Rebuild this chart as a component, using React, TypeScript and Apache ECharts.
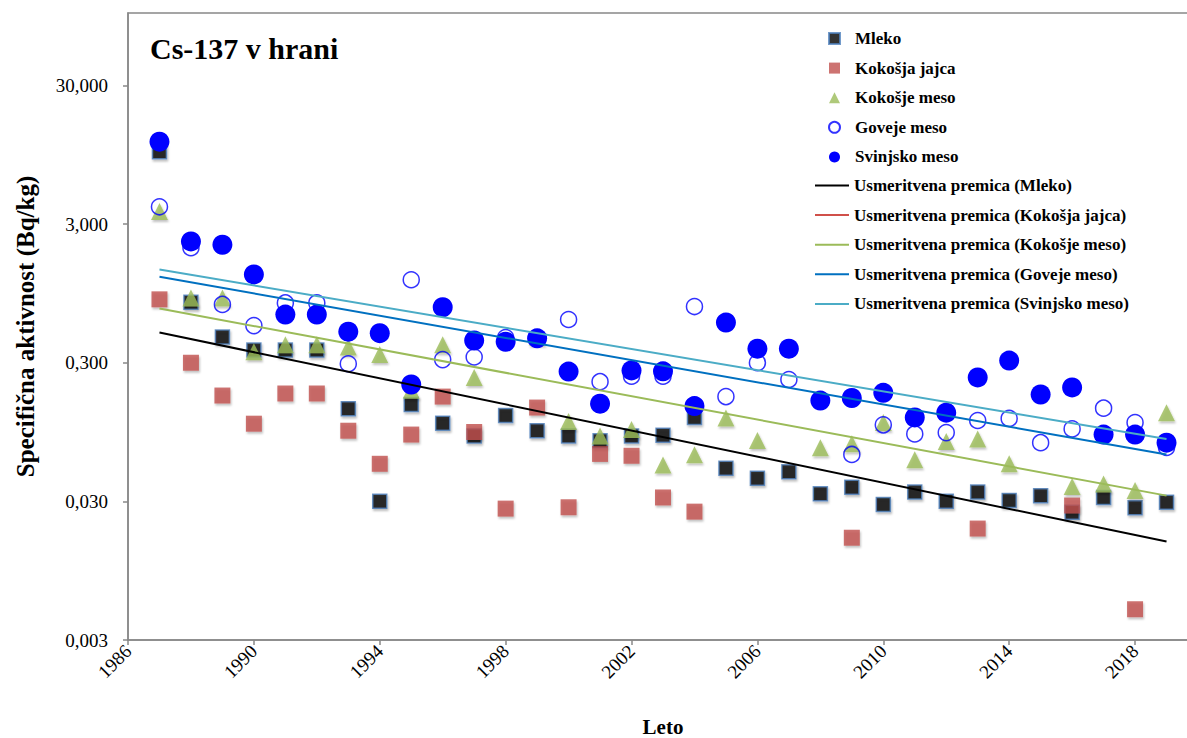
import React, { useEffect, useRef } from 'react';
import * as echarts from 'echarts';

const FONT = "'Liberation Serif', 'Times New Roman', Times, serif";

const years = [
  1987, 1988, 1989, 1990, 1991, 1992, 1993, 1994, 1995, 1996, 1997,
  1998, 1999, 2000, 2001, 2002, 2003, 2004, 2005, 2006, 2007, 2008,
  2009, 2010, 2011, 2012, 2013, 2014, 2015, 2016, 2017, 2018, 2019,
];

const mleko = [
  10.0, 0.82, 0.46, 0.37, 0.37, 0.37, 0.14, 0.030, 0.15, 0.11, 0.089,
  0.125, 0.097, 0.089, 0.082, 0.089, 0.09, 0.121, 0.052, 0.044, 0.049, 0.034,
  0.038, 0.0285, 0.035, 0.030, 0.035, 0.0305, 0.033, 0.025, 0.032, 0.027, 0.0296,
];

const kokosjaJajca = [
  0.86, 0.30, 0.174, 0.109, 0.18, 0.18, 0.097, 0.056, 0.091, 0.171, 0.095,
  0.0266, 0.1425, 0.0272, 0.066, 0.064, 0.032, 0.0253, null, null, null, null,
  0.0164, null, null, null, 0.0191, null, null, 0.028, null, 0.005, null,
];

const kokosjeMeso = [
  3.7, 0.88, 0.88, 0.36, 0.405, 0.405, 0.39, 0.344, 0.19, 0.405, 0.235,
  null, 0.46, 0.113, 0.089, 0.099, 0.055, 0.065, 0.12, 0.0825, null, 0.073,
  0.078, 0.111, 0.060, 0.081, 0.0845, 0.056, null, 0.0384, 0.040, 0.036, 0.131,
];

const govejeMeso = [
  4.0, 2.03, 0.79, 0.556, 0.81, 0.81, 0.295, null, 1.19, 0.316, 0.33,
  0.456, null, 0.615, 0.219, 0.24, 0.24, 0.763, 0.171, 0.30, 0.227, null,
  0.0654, 0.107, 0.092, 0.094, 0.115, 0.119, 0.0795, 0.10, 0.141, 0.111, 0.0735,
];

const svinjskoMeso = [
  11.8, 2.25, 2.13, 1.30, 0.668, 0.668, 0.503, 0.49, 0.209, 0.754, 0.434,
  0.425, 0.45, 0.259, 0.152, 0.264, 0.26, 0.146, 0.585, 0.379, 0.379, 0.16,
  0.167, 0.182, 0.121, 0.131, 0.235, 0.311, 0.177, 0.199, 0.091, 0.091, 0.0795,
];

// trend lines: values at first and last year
const trendYears = [1987, 2019];
const trendMleko = [0.495, 0.0154];
const trendJajca: number[] = [];
const trendKokosjeMeso = [0.739, 0.033];
const trendGoveje = [1.25, 0.0654];
const trendSvinjsko = [1.41, 0.0845];

const yTicks = [0.003, 0.03, 0.3, 3, 30];

const scatterNames = ['Mleko', 'Kokošja jajca', 'Kokošje meso', 'Goveje meso', 'Svinjsko meso'];
const trendNames = [
  'Usmeritvena premica (Mleko)',
  'Usmeritvena premica (Kokošja jajca)',
  'Usmeritvena premica (Kokošje meso)',
  'Usmeritvena premica (Goveje meso)',
  'Usmeritvena premica (Svinjsko meso)',
];

function pts(vals: (number | null)[]) {
  const out: [number, number][] = [];
  vals.forEach((v, i) => {
    if (v != null) out.push([years[i], v]);
  });
  return out;
}

function trend(vals: number[]) {
  return vals.map((v, i) => [trendYears[i], v]);
}

export default function App() {
  const ref = useRef<HTMLDivElement>(null);

  useEffect(() => {
    document.body.style.margin = '0';
    const chart = echarts.init(ref.current!, null, { renderer: 'svg' });
    const shadow = {
      shadowBlur: 2,
      shadowColor: 'rgba(0,0,0,0.3)',
      shadowOffsetX: 1,
      shadowOffsetY: 2,
    };
    const legendText = {
      fontFamily: FONT,
      fontWeight: 'bold',
      fontSize: 17,
      color: '#000',
      lineHeight: 15,
    };
    const option: any = {
      animation: false,
      backgroundColor: '#fff',
      title: {
        text: 'Cs-137 v hrani',
        left: 150,
        top: 33,
        padding: 0,
        textStyle: { fontFamily: FONT, fontWeight: 'bold', fontSize: 30, color: '#000' },
      },
      grid: {
        left: 128,
        top: 13,
        right: -11,
        bottom: 98,
        show: true,
        borderColor: '#888',
        borderWidth: 1.5,
        containLabel: false,
        outerBoundsMode: 'none',
      },
      legend: [
        {
          orient: 'vertical',
          left: 828,
          top: 30,
          padding: 0,
          itemWidth: 11,
          itemHeight: 11,
          itemGap: 12.6,
          textStyle: { ...legendText, padding: [0, 0, 0, 10] },
          data: scatterNames,
        },
        {
          orient: 'vertical',
          left: 815,
          top: 177,
          padding: 0,
          itemWidth: 34,
          itemHeight: 2,
          itemGap: 12.6,
          icon: 'rect',
          textStyle: legendText,
          data: trendNames,
        },
      ],
      xAxis: {
        type: 'value',
        min: 1986,
        max: 2020,
        interval: 4,
        splitLine: { show: false },
        axisLine: { lineStyle: { color: '#888', width: 1.5 } },
        axisTick: { show: true, length: 5, lineStyle: { color: '#888', width: 1.5 } },
        axisLabel: {
          rotate: 45,
          margin: 8,
          showMaxLabel: false,
          fontFamily: FONT,
          fontSize: 19,
          color: '#000',
          formatter: (v: number) => String(Math.round(v)),
        },
        name: 'Leto',
        nameLocation: 'middle',
        nameGap: 76,
        nameTextStyle: { fontFamily: FONT, fontWeight: 'bold', fontSize: 21, color: '#000' },
      },
      yAxis: {
        type: 'log',
        logBase: 10,
        min: 0.003,
        max: 100,
        splitLine: { show: false },
        minorTick: { show: false },
        axisLine: { show: true, lineStyle: { color: '#888', width: 1.5 } },
        axisTick: {
          show: true,
          length: 5,
          customValues: yTicks,
          lineStyle: { color: '#888', width: 1.5 },
        },
        axisLabel: {
          customValues: yTicks,
          margin: 20,
          fontFamily: FONT,
          fontSize: 19,
          color: '#000',
          formatter: (v: number) => v.toFixed(3).replace('.', ','),
        },
        name: 'Specifična aktivnost (Bq/kg)',
        nameLocation: 'middle',
        nameGap: 90,
        nameRotate: 90,
        nameTextStyle: { fontFamily: FONT, fontWeight: 'bold', fontSize: 25, color: '#000' },
      },
      series: [
        {
          name: 'Mleko',
          type: 'scatter',
          symbol: 'rect',
          symbolSize: 14,
          data: pts(mleko),
          itemStyle: { color: '#000', borderColor: '#4F81BD', borderWidth: 1.5, ...shadow },
          z: 2,
        },
        {
          name: 'Kokošja jajca',
          type: 'scatter',
          symbol: 'rect',
          symbolSize: 16,
          data: pts(kokosjaJajca),
          itemStyle: { color: '#C0504D', ...shadow },
          z: 2,
        },
        {
          name: 'Kokošje meso',
          type: 'scatter',
          symbol: 'triangle',
          symbolSize: 17,
          data: pts(kokosjeMeso),
          itemStyle: { color: '#9BBB59', ...shadow },
          z: 2,
        },
        {
          name: 'Goveje meso',
          type: 'scatter',
          symbol: 'circle',
          symbolSize: 16,
          data: pts(govejeMeso),
          itemStyle: { color: 'rgba(255,255,255,0)', borderColor: '#0000FF', borderWidth: 1.5 },
          z: 2,
        },
        {
          name: 'Svinjsko meso',
          type: 'scatter',
          symbol: 'circle',
          symbolSize: 20,
          data: pts(svinjskoMeso),
          itemStyle: { color: '#0000FF', opacity: 1 },
          z: 2,
        },
        {
          name: trendNames[0],
          type: 'line',
          symbol: 'none',
          data: trend(trendMleko),
          lineStyle: { color: '#000000', width: 2 },
          itemStyle: { color: '#000000' },
          z: 5,
        },
        {
          name: trendNames[1],
          type: 'line',
          symbol: 'none',
          data: trend(trendJajca),
          lineStyle: { color: '#D0504A', width: 2 },
          itemStyle: { color: '#D0504A' },
          z: 5,
        },
        {
          name: trendNames[2],
          type: 'line',
          symbol: 'none',
          data: trend(trendKokosjeMeso),
          lineStyle: { color: '#9BBB59', width: 2 },
          itemStyle: { color: '#9BBB59' },
          z: 5,
        },
        {
          name: trendNames[3],
          type: 'line',
          symbol: 'none',
          data: trend(trendGoveje),
          lineStyle: { color: '#0070C0', width: 2 },
          itemStyle: { color: '#0070C0' },
          z: 5,
        },
        {
          name: trendNames[4],
          type: 'line',
          symbol: 'none',
          data: trend(trendSvinjsko),
          lineStyle: { color: '#4BACC6', width: 2 },
          itemStyle: { color: '#4BACC6' },
          z: 5,
        },
      ],
    };
    chart.setOption(option);
    return () => chart.dispose();
  }, []);

  return <div ref={ref} style={{ width: 1187, height: 738 }} />;
}
